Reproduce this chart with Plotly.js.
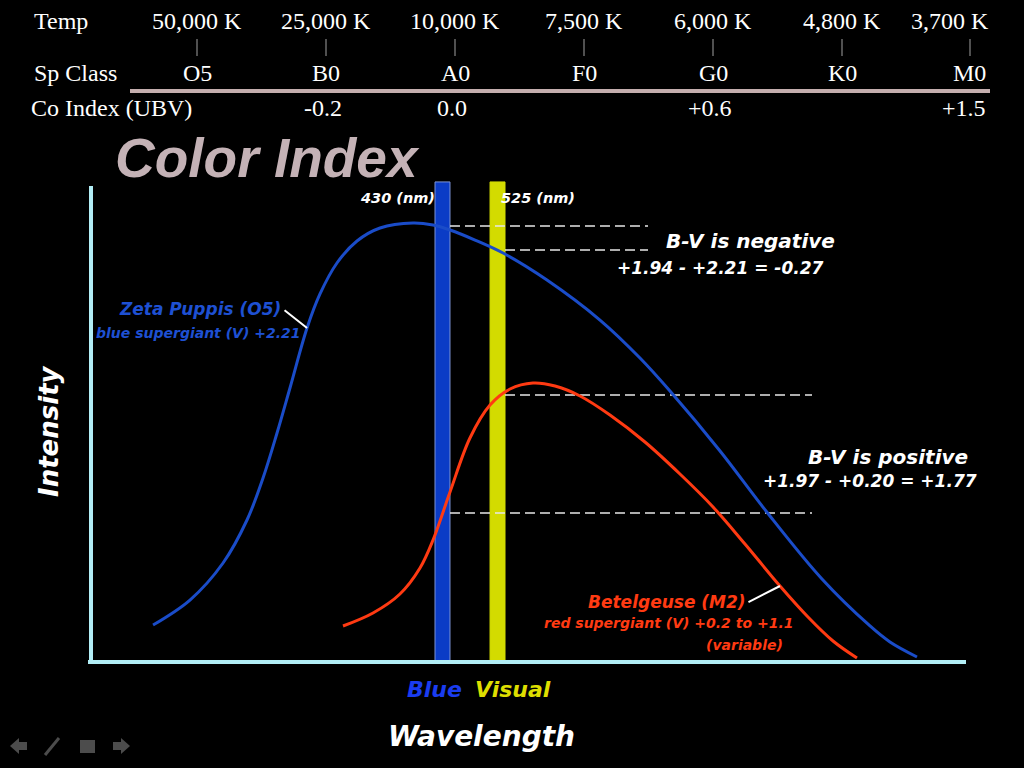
<!DOCTYPE html>
<html>
<head>
<meta charset="utf-8">
<script src="https://cdn.plot.ly/plotly-3.0.1.min.js"></script>
<style>html,body{margin:0;padding:0;background:#000;}#chart{width:1024px;height:768px;}</style>
</head>
<body>
<div id="chart"></div>
<script>
// ---- data ----
const temps = ['50,000 K', '25,000 K', '10,000 K', '7,500 K', '6,000 K', '4,800 K', '3,700 K'];
const spClasses = ['O5', 'B0', 'A0', 'F0', 'G0', 'K0', 'M0'];
const coIndex = ['', '-0.2', '0.0', '', '+0.6', '', '+1.5'];

// Zeta Puppis (O5) spectrum, arbitrary wavelength units vs intensity
const blueX = [7.09, 11.31, 15.09, 17.83, 19.66, 21.26, 22.74, 24.69, 26.17, 28.11, 30.40, 33.03, 36.80, 39.09, 41.03, 43.89, 47.09, 52.11, 58.17, 62.74, 66.17, 71.89, 77.14, 83.54, 89.03, 91.31, 94.40];
const blueY = [7.68, 12.86, 20.54, 29.46, 38.17, 47.51, 56.85, 69.29, 76.35, 82.78, 87.34, 90.04, 91.08, 90.66, 89.63, 87.55, 84.85, 79.25, 70.95, 63.07, 56.22, 43.78, 31.33, 17.22, 7.47, 4.15, 1.04];
// Betelgeuse (M2) spectrum
const redX = [28.80, 32.23, 35.31, 37.60, 39.09, 41.03, 43.31, 45.60, 47.89, 50.51, 53.03, 55.89, 59.31, 63.31, 67.31, 71.09, 74.74, 78.74, 81.94, 84.80, 87.54];
const redY = [7.47, 10.17, 14.11, 19.50, 25.31, 35.27, 46.47, 53.32, 56.64, 57.88, 57.26, 55.19, 51.24, 45.64, 39.00, 32.16, 24.48, 15.77, 9.34, 4.36, 0.83];

// filter bands (B at 430 nm, V at 525 nm)
const bandNames = ['430 (nm)', '525 (nm)'];
const bandCenter = [40.17, 46.46];
const bandWidth = [1.71, 1.71];
const bandHeight = [99.6, 99.6];

// intensity readings through the filters
const zetaB = 90.46, zetaV = 85.48;      // B-V negative
const betelV = 55.39, betelB = 30.91;    // B-V positive
const negEnd = 63.66, posEnd = 82.4;

// ---- helpers: page pixel -> paper coords ----
const L = 91, T = 180, W = 875, H = 482;
const P = x => (x - L) / W;
const Q = y => (T + H - y) / H;

const curveFont = {family: 'DejaVu Sans', weight: 'bold', style: 'italic'};
function lab(text, x, y, size, color, extra) {
  return Object.assign({
    text: text, xref: 'paper', yref: 'paper', x: P(x), y: Q(y),
    xanchor: 'center', yanchor: 'middle', showarrow: false,
    font: Object.assign({}, curveFont, {size: size, color: color})
  }, extra || {});
}

const dashLine = {color: '#e8e8e8', width: 1.5, dash: '10px,5px'};
const traces = [
  {type: 'bar', x: bandCenter, y: bandHeight, width: bandWidth,
   marker: {color: ['#0b3cc6', '#d3db00'], line: {color: ['#7d95d8', '#d3db00'], width: 1}},
   hoverinfo: 'skip'},
  {type: 'scatter', mode: 'lines', x: [bandCenter[0] + bandWidth[0] / 2, negEnd], y: [zetaB, zetaB], line: dashLine},
  {type: 'scatter', mode: 'lines', x: [bandCenter[1] + bandWidth[1] / 2, negEnd], y: [zetaV, zetaV], line: dashLine},
  {type: 'scatter', mode: 'lines', x: [bandCenter[1] + bandWidth[1] / 2, posEnd], y: [betelV, betelV], line: dashLine},
  {type: 'scatter', mode: 'lines', x: [bandCenter[0] + bandWidth[0] / 2, posEnd], y: [betelB, betelB], line: dashLine},
  {type: 'scatter', mode: 'lines', x: blueX, y: blueY,
   line: {color: '#1a4cc8', width: 3, shape: 'spline', smoothing: 1}},
  {type: 'scatter', mode: 'lines', x: redX, y: redY,
   line: {color: '#ff3a12', width: 3, shape: 'spline', smoothing: 1}}
];

const annotations = [];
const shapes = [];

// top table
const serif = {family: 'Liberation Serif, Times New Roman, serif', size: 24, color: '#ffffff'};
function tlab(text, x, y, anchor) {
  return {text: text, xref: 'paper', yref: 'paper', x: P(x), y: Q(y), xanchor: anchor || 'center',
          yanchor: 'middle', showarrow: false, font: serif};
}
annotations.push(tlab('Temp', 32, 21, 'left'));
annotations.push(tlab('Sp Class', 32, 73, 'left'));
annotations.push(tlab('Co Index (UBV)', 29, 108, 'left'));
temps.forEach((t, i) => {
  const last = i === temps.length - 1;
  const cx = 197 + i * 129;
  annotations.push(tlab(t, last ? 991 : cx, 21, last ? 'right' : 'center'));
  annotations.push(tlab(spClasses[i], last ? 988 : cx, 73, last ? 'right' : 'center'));
  if (coIndex[i]) annotations.push(tlab(coIndex[i], last ? 988 : cx - 3, 108, last ? 'right' : 'center'));
  const tx = last ? 970 : cx;
  shapes.push({type: 'line', xref: 'paper', yref: 'paper', x0: P(tx), x1: P(tx), y0: Q(39), y1: Q(56),
               line: {color: '#a0a0a0', width: 1}});
});
shapes.push({type: 'line', xref: 'paper', yref: 'paper', x0: P(130), x1: P(990), y0: Q(91), y1: Q(91),
             line: {color: '#c4aeae', width: 4}});

// title
annotations.push({text: 'Color Index', xref: 'paper', yref: 'paper', x: P(113), y: Q(158),
  xanchor: 'left', yanchor: 'middle', showarrow: false,
  font: {family: 'Liberation Sans, Arial, sans-serif', weight: 'bold', style: 'italic', size: 55, color: '#c4b2b6'}});

// band labels
annotations.push(lab(bandNames[0], 397, 198, 14.5, '#ffffff'));
annotations.push(lab(bandNames[1], 538, 198, 14.5, '#ffffff'));

// B-V labels
annotations.push(lab('B-V is negative', 750, 241, 20, '#ffffff'));
annotations.push(lab('+1.94 - +2.21 = -0.27', 720, 268, 17, '#ffffff'));
annotations.push(lab('B-V is positive', 888, 457, 20, '#ffffff'));
annotations.push(lab('+1.97 - +0.20 = +1.77', 870, 481, 17, '#ffffff'));

// star labels
annotations.push(lab('Zeta Puppis (O5)', 200, 309, 17, '#1e50d2'));
annotations.push(lab('blue supergiant (V) +2.21', 198, 333, 14, '#1e50d2'));
annotations.push(lab('Betelgeuse (M2)', 667, 602, 17, '#ff3a12'));
annotations.push(lab('red supergiant (V) +0.2 to +1.1', 668, 623, 14, '#ff3a12'));
annotations.push(lab('(variable)', 744, 645, 14, '#ff3a12'));

// pointer lines to curves
annotations.push({text: '', xref: 'x', yref: 'y', x: blueX[7], y: blueY[7], ax: -24, ay: -19,
  showarrow: true, arrowhead: 0, arrowwidth: 2, arrowcolor: '#ffffff'});
annotations.push({text: '', xref: 'x', yref: 'y', x: redX[17], y: redY[17], ax: -33, ay: 17,
  showarrow: true, arrowhead: 0, arrowwidth: 2, arrowcolor: '#ffffff'});

// axis titles
annotations.push(lab('Intensity', 49, 431, 26, '#ffffff', {textangle: -90}));
annotations.push(lab('Blue', 434, 689, 22, '#1a3cf0'));
annotations.push(lab('Visual', 513, 689, 22, '#dede00'));
annotations.push(lab('Wavelength', 481, 736, 28, '#ffffff'));

// cyan axes
shapes.push({type: 'line', xref: 'paper', yref: 'paper', x0: P(91), x1: P(91), y0: Q(186), y1: Q(664),
             line: {color: '#b2eef6', width: 4}});
shapes.push({type: 'line', xref: 'paper', yref: 'paper', x0: P(88), x1: P(966), y0: Q(662), y1: Q(662),
             line: {color: '#b2eef6', width: 4}});

// navigation icons
function pathOf(pts) {
  return 'M' + pts.map(p => P(p[0]) + ',' + Q(p[1])).join(' L') + ' Z';
}
const navColor = '#4c4c4c';
shapes.push({type: 'path', xref: 'paper', yref: 'paper', fillcolor: navColor, line: {width: 0},
  path: pathOf([[10, 746], [19, 738], [19, 742], [27, 742], [27, 750], [19, 750], [19, 754]])});
shapes.push({type: 'path', xref: 'paper', yref: 'paper', fillcolor: navColor, line: {width: 0},
  path: pathOf([[130, 746], [121, 738], [121, 742], [113, 742], [113, 750], [121, 750], [121, 754]])});
shapes.push({type: 'line', xref: 'paper', yref: 'paper', x0: P(45), y0: Q(755), x1: P(59), y1: Q(738),
  line: {color: navColor, width: 3}});
shapes.push({type: 'rect', xref: 'paper', yref: 'paper', x0: P(80), y0: Q(740), x1: P(95), y1: Q(753),
  fillcolor: navColor, line: {width: 0}});

const layout = {
  width: 1024, height: 768,
  margin: {l: L, r: 1024 - L - W, t: T, b: 768 - T - H, pad: 0},
  paper_bgcolor: '#000000', plot_bgcolor: '#000000',
  showlegend: false, bargap: 0,
  xaxis: {range: [0, 100], visible: false, fixedrange: true},
  yaxis: {range: [0, 100], visible: false, fixedrange: true},
  annotations: annotations, shapes: shapes
};

Plotly.newPlot('chart', traces, layout, {displayModeBar: false, staticPlot: true});
</script>
</body>
</html>
